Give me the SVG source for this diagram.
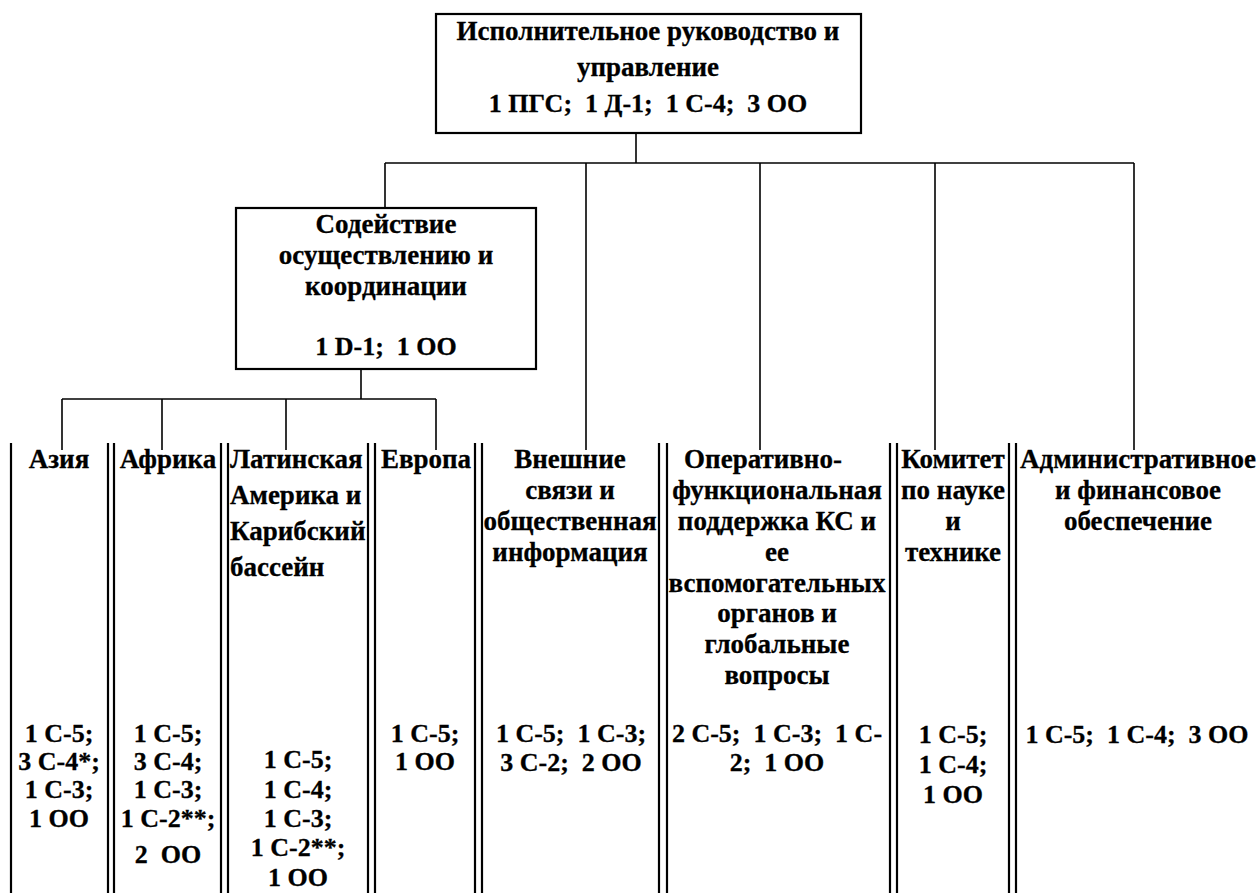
<svg xmlns="http://www.w3.org/2000/svg" width="1259" height="893" viewBox="0 0 1259 893">
<style>
text{font-family:'Liberation Serif','Times New Roman',serif;font-weight:bold;font-size:27px;fill:#000;stroke:#000;stroke-width:0.3}
.d{font-size:26px}
.c{text-anchor:middle}
.box{fill:#fff;stroke:#000;stroke-width:2.2}
.col{stroke:#000;stroke-width:2.2;fill:none}
.cn{stroke:#000;stroke-width:1.6;fill:none}
</style>
<rect width="1259" height="893" fill="#fff"/>
<g id="connectors">
<line class="cn" x1="636" y1="133" x2="636" y2="163"/>
<line class="cn" x1="385" y1="163" x2="1134" y2="163"/>
<line class="cn" x1="385" y1="163" x2="385" y2="208"/>
<line class="cn" x1="586" y1="163" x2="586" y2="450"/>
<line class="cn" x1="760" y1="163" x2="760" y2="450"/>
<line class="cn" x1="935" y1="163" x2="935" y2="450"/>
<line class="cn" x1="1134" y1="163" x2="1134" y2="450"/>
<line class="cn" x1="361" y1="369" x2="361" y2="399"/>
<line class="cn" x1="62" y1="399" x2="436" y2="399"/>
<line class="cn" x1="62" y1="399" x2="62" y2="450"/>
<line class="cn" x1="162" y1="399" x2="162" y2="450"/>
<line class="cn" x1="286" y1="399" x2="286" y2="450"/>
<line class="cn" x1="436" y1="399" x2="436" y2="450"/>
</g>
<g id="exec">
<rect class="box" x="436" y="14" width="425" height="119"/>
<text class="c" x="648" y="40">Исполнительное руководство и</text>
<text class="c" x="648" y="76">управление</text>
<text class="c d" x="648" y="112" xml:space="preserve">1 ПГС;  1 Д-1;  1 С-4;  3 ОО</text>
</g>
<g id="coord">
<rect class="box" x="236" y="208" width="300" height="161"/>
<text class="c" x="386" y="233">Содействие</text>
<text class="c" x="386" y="264">осуществлению и</text>
<text class="c" x="386" y="295">координации</text>
<text class="c d" x="386" y="355" xml:space="preserve">1 D-1;  1 OO</text>
</g>
<g id="asia">
<line class="col" x1="11" y1="443" x2="11" y2="893"/>
<line class="col" x1="108" y1="443" x2="108" y2="893"/>
<text class="c" x="59" y="468">Азия</text>
<text class="c d" x="59" y="742">1 С-5;</text>
<text class="c d" x="59" y="770">3 С-4*;</text>
<text class="c d" x="59" y="798">1 С-3;</text>
<text class="c d" x="59" y="827">1 ОО</text>
</g>
<g id="africa">
<line class="col" x1="114" y1="443" x2="114" y2="893"/>
<line class="col" x1="221" y1="443" x2="221" y2="893"/>
<text class="c" x="168" y="468">Африка</text>
<text class="c d" x="168" y="742">1 С-5;</text>
<text class="c d" x="168" y="770">3 С-4;</text>
<text class="c d" x="168" y="798">1 С-3;</text>
<text class="c d" x="168" y="827">1 С-2**;</text>
<text class="c d" x="168" y="863" xml:space="preserve">2  ОО</text>
</g>
<g id="latam">
<line class="col" x1="228" y1="443" x2="228" y2="893"/>
<line class="col" x1="368" y1="443" x2="368" y2="893"/>
<text x="230" y="468">Латинская</text>
<text x="230" y="504">Америка и</text>
<text x="230" y="540">Карибский</text>
<text x="230" y="576">бассейн</text>
<text class="c d" x="298" y="768">1 С-5;</text>
<text class="c d" x="298" y="798">1 С-4;</text>
<text class="c d" x="298" y="827">1 С-3;</text>
<text class="c d" x="298" y="856">1 С-2**;</text>
<text class="c d" x="298" y="886">1 ОО</text>
</g>
<g id="europe">
<line class="col" x1="375" y1="443" x2="375" y2="893"/>
<line class="col" x1="475" y1="443" x2="475" y2="893"/>
<text class="c" x="426" y="468">Европа</text>
<text class="c d" x="425" y="742">1 С-5;</text>
<text class="c d" x="425" y="770">1 ОО</text>
</g>
<g id="external">
<line class="col" x1="482" y1="443" x2="482" y2="893"/>
<line class="col" x1="659" y1="443" x2="659" y2="893"/>
<text class="c" x="570" y="468">Внешние</text>
<text class="c" x="570" y="499">связи и</text>
<text class="c" x="570" y="530">общественная</text>
<text class="c" x="570" y="561">информация</text>
<text class="c d" x="571" y="742" xml:space="preserve">1 С-5;  1 С-3;</text>
<text class="c d" x="571" y="771" xml:space="preserve">3 С-2;  2 ОО</text>
</g>
<g id="operational">
<line class="col" x1="667" y1="443" x2="667" y2="893"/>
<line class="col" x1="890" y1="443" x2="890" y2="893"/>
<text class="c" x="763" y="468">Оперативно-</text>
<text class="c" x="777" y="499">функциональная</text>
<text class="c" x="777" y="530">поддержка КС и</text>
<text class="c" x="777" y="561">ее</text>
<text class="c" x="777" y="592">вспомогательных</text>
<text class="c" x="777" y="622">органов и</text>
<text class="c" x="777" y="653">глобальные</text>
<text class="c" x="777" y="684">вопросы</text>
<text class="c d" x="777" y="742" xml:space="preserve">2 С-5;  1 С-3;  1 С-</text>
<text class="c d" x="777" y="771" xml:space="preserve">2;  1 ОО</text>
</g>
<g id="committee">
<line class="col" x1="897" y1="443" x2="897" y2="893"/>
<line class="col" x1="1009" y1="443" x2="1009" y2="893"/>
<text class="c" x="953" y="468">Комитет</text>
<text class="c" x="953" y="499">по науке</text>
<text class="c" x="953" y="530">и</text>
<text class="c" x="953" y="561">технике</text>
<text class="c d" x="953" y="743">1 С-5;</text>
<text class="c d" x="953" y="773">1 С-4;</text>
<text class="c d" x="953" y="803">1 ОО</text>
</g>
<g id="admin">
<line class="col" x1="1016" y1="443" x2="1016" y2="893"/>
<text class="c" x="1138" y="468">Административное</text>
<text class="c" x="1138" y="499">и финансовое</text>
<text class="c" x="1138" y="530">обеспечение</text>
<text class="c d" x="1137" y="743" xml:space="preserve">1 С-5;  1 С-4;  3 ОО</text>
</g>
</svg>
